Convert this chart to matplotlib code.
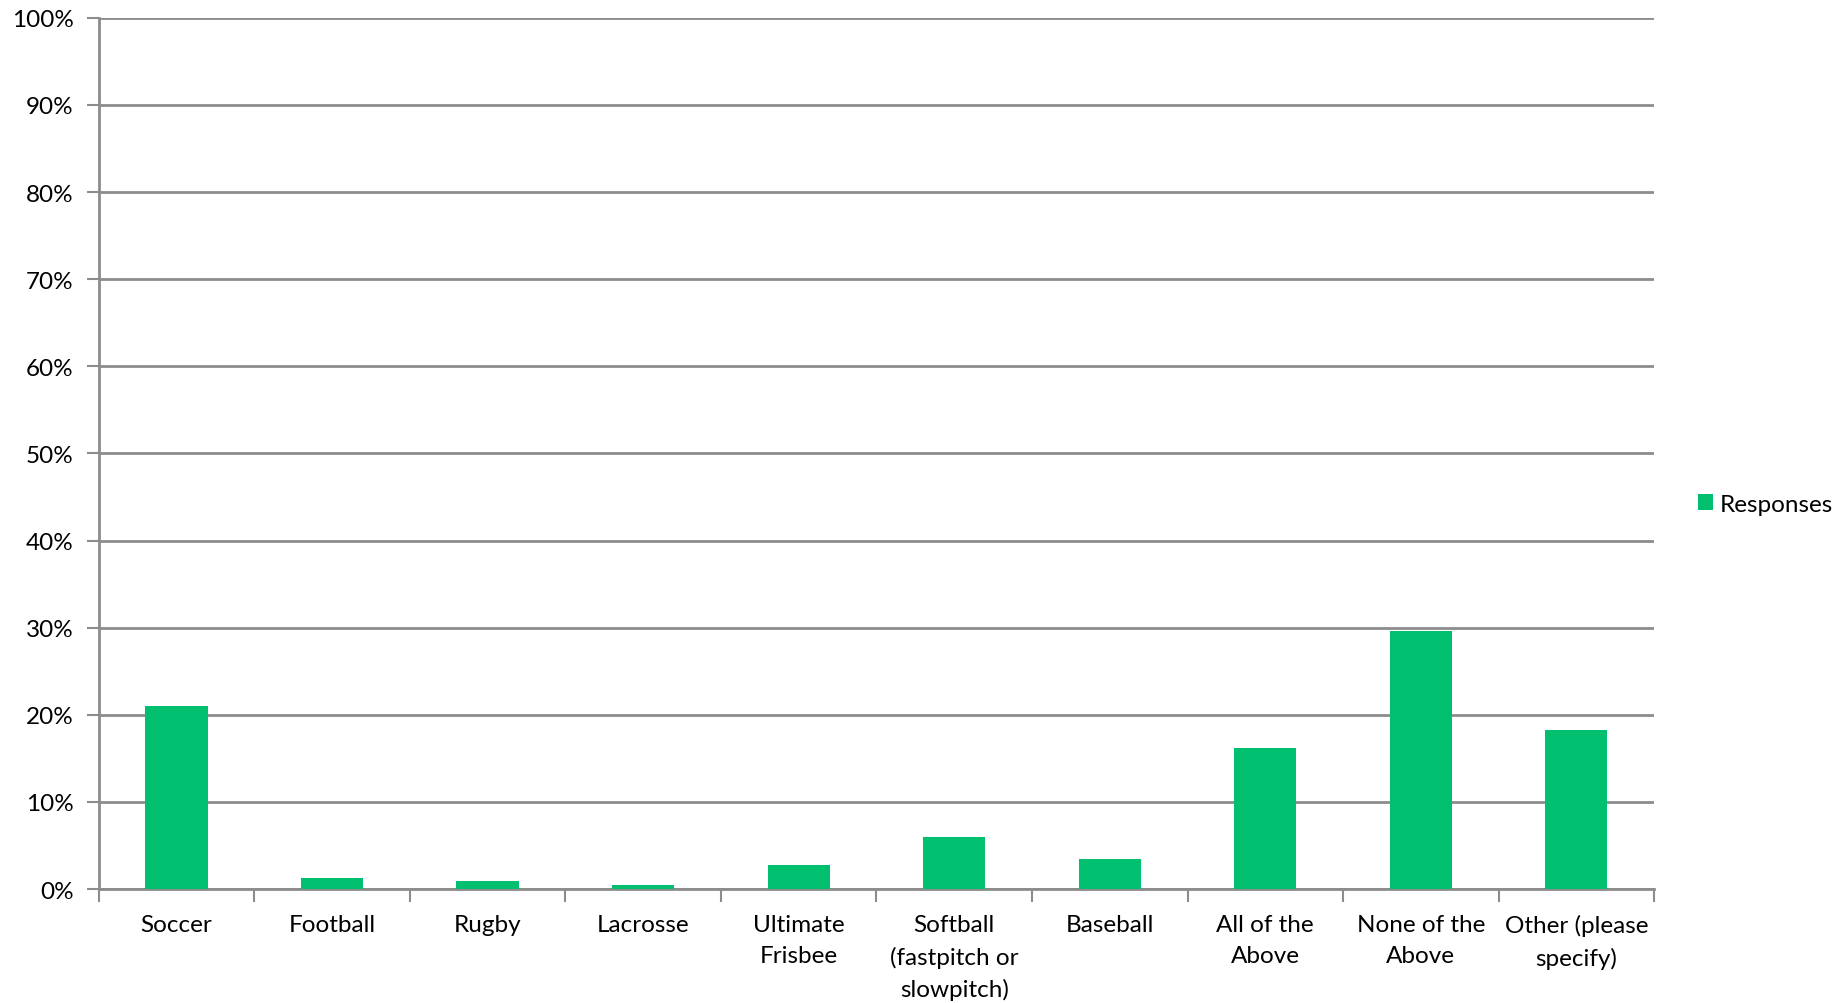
import numpy as np
import matplotlib
matplotlib.use("Agg")
import matplotlib.pyplot as plt
from matplotlib.ticker import FuncFormatter

categories = ["Soccer", "Football", "Rugby", "Lacrosse", "Ultimate\nFrisbee",
              "Softball\n(fastpitch or\nslowpitch)", "Baseball", "All of the\nAbove",
              "None of the\nAbove", "Other (please\nspecify)"]
responses = [20.96, 1.23, 0.96, 0.5, 2.72, 5.94, 3.49, 16.2, 29.66, 18.2]

plt.rcParams['font.family'] = ['Lato', 'DejaVu Sans']

fig = plt.figure(figsize=(18.42, 10.04), dpi=100)
ax = fig.add_axes([0.0536, 0.1135, 0.8444, 0.8678])

x = np.arange(len(categories))
ax.bar(x, responses, width=0.4, color="#00BF6F", label="Responses", zorder=3)

ax.set_xlim(-0.5, len(categories) - 0.5)
ax.set_ylim(0, 100)
ax.set_yticks(np.arange(0, 101, 10))
ax.yaxis.set_major_formatter(FuncFormatter(lambda v, p: "%d%%" % v))
ax.grid(axis="y", color="#8c8c8c", linewidth=2, zorder=0)

# ticks at the category boundaries, labels at the centres
ax.set_xticks(np.arange(-0.5, len(categories), 1))
ax.set_xticklabels([])
ax.set_xticks(x, minor=True)
ax.set_xticklabels(categories, minor=True, fontsize=17.5, linespacing=1.58)
ax.tick_params(axis="x", which="major", length=9, width=1.5, color="#8c8c8c")
ax.tick_params(axis="x", which="minor", length=0, pad=18)
ax.tick_params(axis="y", length=9, width=1.5, color="#8c8c8c", labelsize=17.5, pad=9)

for s in ["top", "right"]:
    ax.spines[s].set_visible(False)
for s in ["left", "bottom"]:
    ax.spines[s].set_color("#8c8c8c")
    ax.spines[s].set_linewidth(2)

fig.legend(loc="center left", bbox_to_anchor=(0.91, 0.497), frameon=False,
           fontsize=17.5, handlelength=0.6, handleheight=0.6, handletextpad=0.3)

fig.savefig("out.png", dpi=100)
